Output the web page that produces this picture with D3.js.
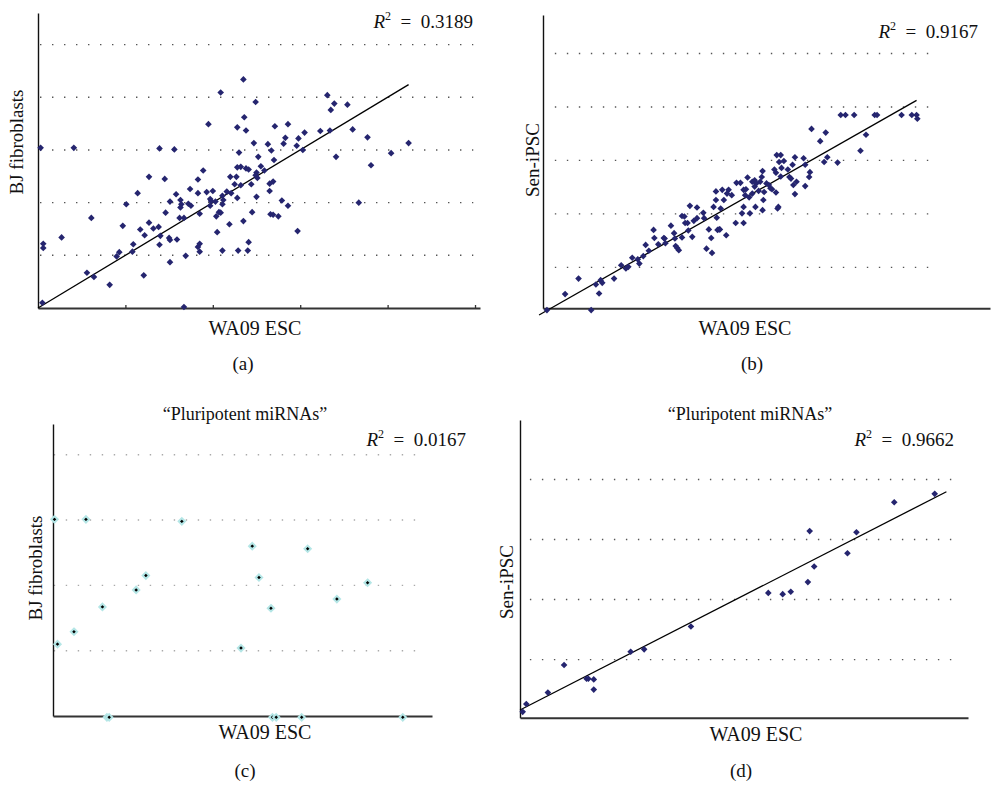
<!DOCTYPE html>
<html>
<head>
<meta charset="utf-8">
<script src="https://cdn.jsdelivr.net/npm/d3@7"></script>
<style>
body { margin: 0; background: #fff; }
text { font-family: "Liberation Serif", "DejaVu Serif", serif; fill: #111; }
</style>
</head>
<body>
<svg id="chart" width="991" height="785"></svg>
<script>
// values (unitless expression levels, 10 units per grid step)
const pointsA = [
	[0.3,30.4],[4.1,30.4],[13.9,30.3],[15.6,30.1],[23.5,43.4],[20.9,40.9],[24.9,39.1],[23.6,36.2],[19.5,34.9],[22.8,34.3],
	[23.8,33.7],[24.7,31.3],[25.2,28.7],[23.0,29.5],[18.9,26.1],[12.7,24.9],[14.5,24.5],[22.0,24.9],[22.7,24.9],[23.2,26.8],
	[22.8,26.7],[23.8,26.5],[24.1,26.3],[22.5,23.5],[23.2,23.3],[24.4,23.5],[18.3,24.4],[17.4,22.6],[18.3,21.8],[19.3,22.0],
	[20.0,22.2],[11.4,21.8],[15.8,21.6],[10.1,19.7],[15.1,20.2],[16.3,20.5],[16.4,19.7],[16.3,19.1],[17.2,19.8],[17.5,19.4],
	[19.7,20.7],[19.8,20.3],[20.3,20.2],[21.1,21.3],[21.6,22.1],[21.2,20.5],[21.1,19.7],[22.1,21.8],[22.8,20.9],[25.0,21.1],
	[19.7,19.4],[6.1,17.1],[14.6,18.1],[16.2,17.1],[16.7,17.1],[18.5,17.9],[20.4,17.4],[20.7,18.2],[20.9,18.1],[24.5,18.2],
	[23.5,16.5],[9.7,15.6],[12.7,16.2],[11.7,14.9],[13.2,15.1],[13.8,15.4],[21.9,15.9],[20.5,14.4],[2.7,13.4],[0.6,12.2],
	[0.6,11.4],[12.2,13.8],[14.0,13.7],[15.0,13.3],[15.1,12.9],[15.9,13.0],[10.9,12.1],[13.9,12.0],[18.5,12.2],[18.3,11.6],
	[18.5,10.7],[24.1,12.5],[9.3,10.6],[9.0,9.8],[10.8,10.7],[16.9,9.9],[21.1,10.9],[22.9,10.9],[24.0,10.9],[5.6,6.7],
	[6.4,5.9],[8.2,4.4],[12.1,6.2],[15.1,8.7],[0.5,1.0],[16.7,0.2],
	[33.1,40.4],[33.9,38.8],[33.5,37.6],[35.4,38.6],[27.1,34.5],[28.6,34.9],[32.3,33.6],[33.4,33.7],[36.0,33.9],[30.5,33.3],
	[29.8,32.2],[28.3,32.3],[26.3,31.1],[26.7,29.9],[28.1,31.2],[29.6,30.8],[30.3,30.0],[37.7,32.4],[42.4,31.3],[40.4,29.4],
	[27.0,28.1],[34.1,28.7],[25.5,26.9],[25.9,26.1],[25.0,25.7],[24.9,25.2],[25.1,24.7],[38.1,27.1],[26.5,23.6],[26.9,24.0],
	[26.5,22.2],[27.9,20.4],[28.6,19.4],[36.7,20.0],[26.6,17.8],[26.9,17.7],[27.5,17.4],[29.7,14.6]
];

const pointsB = [
	[0.5,2.0],[6.1,2.0],[2.8,5.0],[4.5,7.9],[7.1,5.1],[6.7,6.8],[7.3,7.6],[7.5,7.1],[9.0,7.9],[9.9,10.4],
	[10.5,9.8],[10.8,10.1],[11.3,11.8],[12.0,11.5],[12.2,10.7],[12.7,12.1],[13.0,14.2],[13.4,13.1],[14.0,17.0],[14.1,15.5],
	[14.6,14.3],[15.3,15.5],[15.4,15.4],[15.5,14.5],[16.2,17.8],[16.6,16.4],[16.7,15.4],[16.8,14.0],[17.0,13.6],[17.2,13.2],
	[17.6,15.6],[17.6,19.6],[17.9,19.5],[18.0,18.3],[18.3,18.3],[18.4,16.9],[18.6,21.5],[18.9,15.7],[19.1,18.7],[19.5,21.2],
	[19.5,19.2],[20.3,20.2],[20.4,19.2],[20.7,13.5],[21.0,17.1],[21.3,15.5],[21.4,12.7],[21.6,21.3],[21.9,22.6],[21.9,24.2],
	[22.0,19.3],[22.1,17.0],[22.3,17.1],
	[22.4,17.1],[23.2,16.0],[22.5,21.0],[22.9,22.6],[23.5,24.5],[23.3,23.8],[23.9,23.5],[22.7,24.5],[24.4,18.3],[24.5,25.8],
	[25.0,25.8],[25.4,18.3],[25.6,23.5],[25.4,24.5],[25.2,20.1],[25.4,21.3],[25.7,24.6],[25.9,26.8],[26.1,23.1],[26.2,20.1],
	[26.5,23.8],[26.5,26.0],[26.8,26.3],[26.8,25.1],[26.9,21.3],[27.0,25.7],[27.3,24.3],[27.5,26.0],[27.7,26.9],[27.8,28.0],
	[27.8,20.7],[27.9,22.6],[28.0,24.1],[28.3,25.7],[28.6,25.4],[28.8,24.8],[29.0,24.6],[29.3,28.3],[29.5,27.7],[29.5,24.0],
	[29.6,31.0],[29.7,21.0],[29.8,21.3],[29.9,29.7],[30.1,31.0],[30.1,27.0],[30.2,28.6],[30.5,29.9],[31.0,28.3],[31.2,26.9],
	[31.4,26.6],[31.6,29.2],[31.9,30.6],[31.7,25.4],[31.9,23.7],[32.1,26.0],[33.0,30.4],[33.2,29.2],[33.2,25.2],[33.7,26.9],
	[33.8,27.8],[34.0,35.9],[35.1,33.6],[35.6,29.7],[35.8,35.2],[36.0,30.6],[37.3,29.6],[37.7,38.5],[38.3,38.5],[39.4,38.5],
	[40.2,31.8],[40.9,34.8],[42.0,38.5],[42.3,38.5],[45.4,38.5],[46.7,38.5],[47.3,38.5],[47.4,37.8]
];

const pointsC = [
	[0.2,30.1],[4.4,30.1],[17.2,29.8],[12.4,21.5],[11.1,19.3],[6.6,16.7],[2.8,12.9],[0.6,11.0],[7.2,-0.2],[7.5,-0.2],
	[25.1,10.4],[26.6,26.0],[27.5,21.2],[29.1,16.5],[34.0,25.6],[37.9,17.9],[42.0,20.4],[29.3,-0.2],[29.8,-0.2],[33.2,-0.2],
	[46.7,-0.2]
];

const pointsD = [
	[0.3,1.3],[0.7,2.6],[3.1,4.5],[4.9,9.1],[7.4,6.8],[7.6,6.8],[8.2,6.7],[8.2,5.0],[12.3,11.3],[13.8,11.7],
	[19.0,15.5],[27.6,21.1],[29.2,20.9],[30.1,21.3],[32.0,22.9],[32.7,25.5],[32.2,31.4],[36.4,27.7],[37.4,31.2],[41.6,36.2],
	[46.1,37.6]
];

// linear fits: slope, intercept, x start, x end
const fitA = [1.0, 0, 0, 42.4];
const fitB = [0.84, 1.5, -0.5, 47.3];
const fitD = [0.767, 1.6, 0, 47.4];

const r2Values = ['0.3189', '0.9167', '0.0167', '0.9662'];
const gridTop = [10, 20, 30, 40, 50];
const gridBottom = [10, 20, 30, 40];
const ticksA = [10, 20, 30, 40, 50];
const xTitle = 'WA09 ESC';
const yTitles = ['BJ fibroblasts', 'Sen-iPSC', 'BJ fibroblasts', 'Sen-iPSC'];
const tags = ['(a)', '(b)', '(c)', '(d)'];
const subTitle = '\u201cPluripotent miRNAs\u201d';

// layout of the four panels
const panels = [
	{ pts: pointsA, fit: fitA, r2: r2Values[0], grid: gridTop, ticks: ticksA,
		xDomain: [0, 50.57], xRange: [38, 480], yDomain: [0, 56], yRange: [308, 13], gridX: [0.23, 49.8],
		r2Pos: [473, 28], xLab: [255, 335], yLab: [23, 142], tag: [243, 370], style: 'navy' },
	{ pts: pointsB, fit: fitB, r2: r2Values[1], grid: gridTop, ticks: [],
		xDomain: [0, 56.6], xRange: [543, 990], yDomain: [2.34, 57.2], yRange: [308.3, 15], gridX: [1.5, 50],
		r2Pos: [978, 38], xLab: [745, 335], yLab: [539, 160], tag: [752, 370], style: 'navy' },
	{ pts: pointsC, fit: null, r2: r2Values[2], grid: gridBottom, ticks: [],
		xDomain: [0, 50.6], xRange: [53, 432], yDomain: [0, 44.7], yRange: [716, 424], gridX: [0.1, 49.6],
		r2Pos: [466, 446], xLab: [265, 739], yLab: [42, 568], tag: [245, 777], title: [245, 420], style: 'halo' },
	{ pts: pointsD, fit: fitD, r2: r2Values[3], grid: gridBottom, ticks: [],
		xDomain: [0, 49.8], xRange: [520, 968], yDomain: [0.32, 49.9], yRange: [717.7, 420], gridX: [1.1, 48.3],
		r2Pos: [954, 446], xLab: [756, 741], yLab: [513, 582], tag: [741, 777], title: [750, 420], style: 'navy' }
];

const diamond = {
	draw(ctx, size) {
		const r = Math.sqrt(size / 2);
		ctx.moveTo(0, -r);
		ctx.lineTo(r, 0);
		ctx.lineTo(0, r);
		ctx.lineTo(-r, 0);
		ctx.closePath();
	}
};

const drawPanel = (canvas, p, i) => {
	const x = d3.scaleLinear().domain(p.xDomain).range(p.xRange);
	const y = d3.scaleLinear().domain(p.yDomain).range(p.yRange);
	const g = canvas.append('g');

	g.selectAll('.grid')
		.data(p.grid)
		.enter()
		.append('line')
		.attr('x1', x(p.gridX[0]))
		.attr('x2', x(p.gridX[1]))
		.attr('y1', d => y(d))
		.attr('y2', d => y(d))
		.style('stroke', p.style === 'halo' ? '#aaa' : '#555')
		.style('stroke-width', 1.4)
		.style('stroke-dasharray', '1.4,10.6');

	const yAxis = g.append('g')
		.attr('transform', `translate(${p.xRange[0]},0)`)
		.call(d3.axisLeft(y).tickValues([]).tickSizeOuter(0));
	yAxis.select('.domain').style('stroke', '#111').style('stroke-width', 1.4);

	const xAxis = g.append('g')
		.attr('transform', `translate(0,${p.yRange[0]})`)
		.call(d3.axisBottom(x).tickValues(p.ticks).tickSize(-3).tickSizeOuter(0).tickFormat(''));
	xAxis.select('.domain').style('stroke', '#333').style('stroke-width', 2);
	xAxis.selectAll('.tick line').style('stroke', '#333').style('stroke-width', 1.3);

	if (p.fit) {
		const f = p.fit;
		g.append('line')
			.attr('x1', x(f[2])).attr('y1', y(f[0] * f[2] + f[1]))
			.attr('x2', x(f[3])).attr('y2', y(f[0] * f[3] + f[1]))
			.style('stroke', '#000')
			.style('stroke-width', 1.3);
	}

	const sym = d3.symbol().type(diamond).size(p.style === 'halo' ? 20 : 22);
	g.selectAll('.pt')
		.data(p.pts)
		.enter()
		.append('path')
		.attr('d', sym)
		.attr('transform', d => `translate(${x(d[0])},${y(d[1])})`)
		.style('fill', p.style === 'halo' ? '#000' : '#25256f')
		.style('stroke', p.style === 'halo' ? '#b4e6e6' : 'none')
		.style('stroke-width', 2);

	const r2 = g.append('text')
		.attr('x', p.r2Pos[0]).attr('y', p.r2Pos[1])
		.attr('text-anchor', 'end')
		.style('font-size', '19px');
	r2.append('tspan').style('font-style', 'italic').text('R');
	r2.append('tspan').attr('dy', -8).style('font-size', '12px').text('2');
	r2.append('tspan').attr('dy', 8).text('\u2002=\u2002' + p.r2);

	g.append('text')
		.attr('x', p.xLab[0]).attr('y', p.xLab[1])
		.attr('text-anchor', 'middle')
		.style('font-size', '20px')
		.text(xTitle);

	g.append('text')
		.attr('transform', `translate(${p.yLab[0]},${p.yLab[1]}) rotate(-90)`)
		.attr('text-anchor', 'middle')
		.style('font-size', '19px')
		.text(yTitles[i]);

	g.append('text')
		.attr('x', p.tag[0]).attr('y', p.tag[1])
		.attr('text-anchor', 'middle')
		.style('font-size', '19px')
		.text(tags[i]);

	if (p.title) {
		g.append('text')
			.attr('x', p.title[0]).attr('y', p.title[1])
			.attr('text-anchor', 'middle')
			.style('font-size', '18px')
			.text(subTitle);
	}
}

const canvas = d3.select('#chart');
canvas.append('rect').attr('width', 991).attr('height', 785).style('fill', '#fff');
panels.forEach((p, i) => drawPanel(canvas, p, i));
</script>
</body>
</html>
